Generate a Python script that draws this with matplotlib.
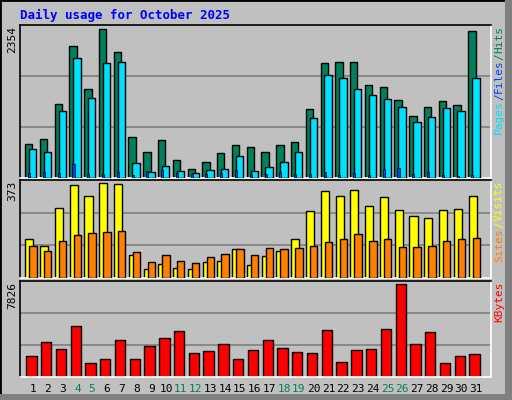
import matplotlib
matplotlib.use("Agg")
import matplotlib.pyplot as plt
from matplotlib.patches import Rectangle
import numpy as np

days = list(range(1, 32))
weekends = [4, 5, 11, 12, 18, 19, 25, 26]
hits = [533, 612, 1172, 2098, 1411, 2354, 2003, 644, 405, 597, 293, 149, 261, 389, 517, 485,
        405, 517, 565, 1092, 1827, 1843, 1843, 1475, 1443, 1236, 980, 1124, 1220, 1156, 2322]
files = [453, 405, 1060, 1907, 1268, 1827, 1843, 245, 101, 197, 117, 85, 133, 149, 341, 117,
         181, 261, 405, 948, 1635, 1587, 1411, 1316, 1252, 1124, 884, 964, 1108, 1060, 1587]
pages = [80, 96, 85, 229, 70, 64, 96, 53, 117, 128, 85, 64, 64, 80, 133, 64,
         64, 96, 64, 64, 96, 53, 85, 53, 149, 165, 64, 96, 53, 32, 53]
visits = [151, 127, 276, 365, 320, 373, 369, 90, 34, 54, 38, 34, 62, 66, 114, 50,
          86, 106, 151, 264, 341, 320, 345, 284, 316, 268, 244, 236, 268, 272, 320]
sites = [127, 106, 147, 167, 175, 179, 183, 102, 62, 90, 66, 58, 82, 94, 114, 90,
         118, 114, 118, 127, 143, 151, 171, 147, 151, 123, 123, 127, 147, 151, 155]
kbytes = [1742, 2942, 2342, 4313, 1142, 1485, 3113, 1485, 2599, 3284, 3884, 1999, 2171, 2770, 1485, 2256,
          3113, 2428, 2085, 1999, 3970, 1228, 2256, 2342, 4056, 7826, 2770, 3799, 1142, 1742, 1914]

W, H = 512, 400
BG = "#C0C0C0"
MONO = "DejaVu Sans Mono"

fig = plt.figure(figsize=(W / 100, H / 100), dpi=100, facecolor=BG)
# outer border and shadow
fig.patches.append(Rectangle((0, 0), 1, 1, transform=fig.transFigure, fill=False,
                             edgecolor="black", linewidth=2))
fig.patches.append(Rectangle((505 / W, 0), 7 / W, 1, transform=fig.transFigure,
                             facecolor="#808080", edgecolor="none"))
fig.patches.append(Rectangle((0, 0), 1, 6 / H, transform=fig.transFigure,
                             facecolor="#808080", edgecolor="none"))


def px_axes(x0, y0, x1, y1):
    return fig.add_axes([x0 / W, 1 - y1 / H, (x1 - x0) / W, (y1 - y0) / H])


def style(ax, top):
    ax.set_facecolor(BG)
    ax.set_xlim(0.12, 32.0)
    ax.set_ylim(0, top * 1.03)
    for s in ax.spines.values():
        s.set_linewidth(1.2)
    ax.spines["left"].set_color("black")
    ax.spines["top"].set_color("black")
    ax.spines["right"].set_color("white")
    ax.spines["bottom"].set_color("white")
    ax.set_xticks([])
    ax.set_yticks([])
    for f in (1 / 3, 2 / 3):
        ax.axhline(top * 1.03 * f, color="#808080", linewidth=1.2, zorder=0)


x = np.array(days)
kw = dict(edgecolor="black", linewidth=1, align="edge")

ax1 = px_axes(20, 25, 491, 178)
style(ax1, max(hits))
ax1.bar(x - 0.54, hits, 0.5, color="#00805C", zorder=2, **kw)
ax1.bar(x - 0.27, files, 0.5, color="#00E0FF", zorder=3, **kw)
ax1.bar(x - 0.33, pages, 0.14, color="#0040FF", edgecolor="black", linewidth=0.5,
        align="edge", zorder=4)

ax2 = px_axes(20, 180, 491, 278)
style(ax2, max(visits))
ax2.bar(x - 0.52, visits, 0.55, color="#FFFF00", zorder=2, **kw)
ax2.bar(x - 0.25, sites, 0.5, color="#FF8000", zorder=3, **kw)

ax3 = px_axes(20, 281, 491, 377)
style(ax3, max(kbytes))
ax3.bar(x - 0.46, kbytes, 0.7, color="#FF0000", zorder=2, **kw)

for d in days:
    ax3.text(d, -0.07, str(d), transform=ax3.get_xaxis_transform(), ha="center", va="top",
             fontsize=8, family=MONO, color="#00805C" if d in weekends else "black")

fig.text(20 / W, 1 - 15 / H, "Daily usage for October 2025", color="#0000FF", fontsize=9,
         family=MONO, fontweight="bold", va="center")

for ax, val in ((ax1, max(hits)), (ax2, max(visits)), (ax3, max(kbytes))):
    pos = ax.get_position()
    fig.text(pos.x0 - 3 / W, pos.y1 - 1 / H, str(val), rotation=90, ha="right", va="top",
             fontsize=8, family=MONO)

renderer = fig.canvas.get_renderer()


def right_label(ax, parts):
    pos = ax.get_position()
    y = pos.y1 - 1 / H
    for text, col in reversed(parts):
        t = fig.text(499 / W, y, text, rotation=90, ha="center", va="top", fontsize=8,
                     family=MONO, color=col)
        ext = t.get_window_extent(renderer)
        y -= ext.height / H


right_label(ax1, [("Pages", "#00E0FF"), ("/", "#0040FF"), ("Files", "#0040FF"),
                  ("/", "#00805C"), ("Hits", "#00805C")])
right_label(ax2, [("Sites", "#FF8000"), ("/", "#FFFF00"), ("Visits", "#FFFF00")])
right_label(ax3, [("KBytes", "#FF0000")])

fig.savefig("out.png", dpi=100, facecolor=BG)
